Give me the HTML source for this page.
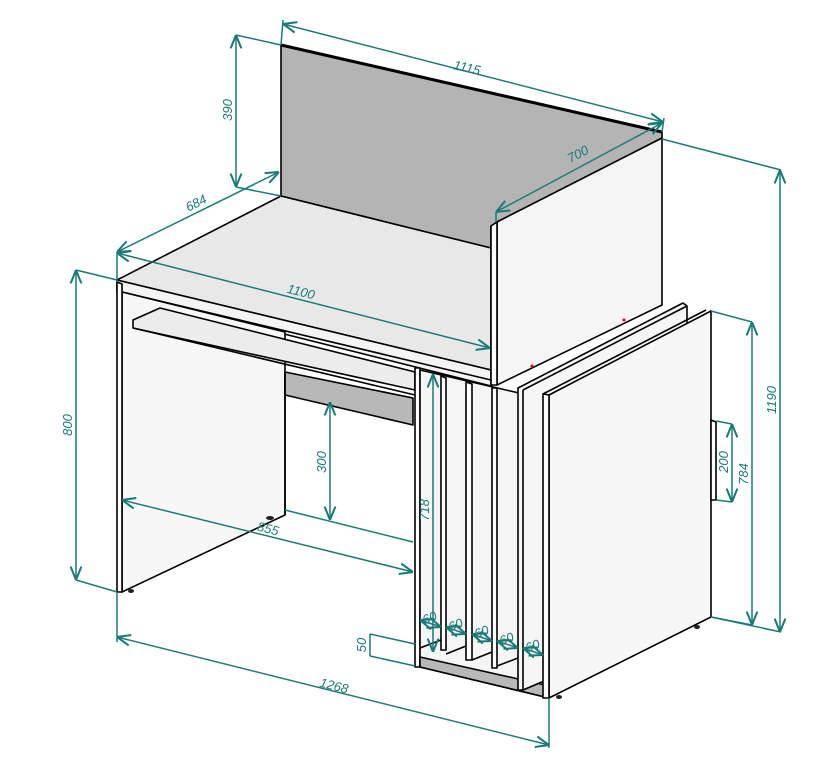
<!DOCTYPE html>
<html><head><meta charset="utf-8"><style>
html,body{margin:0;padding:0;background:#fff;}
svg{display:block;}
text{font-family:"Liberation Sans",sans-serif;font-style:italic;font-size:13px;fill:#1a7a78;}
</style></head><body>
<svg width="829" height="774" viewBox="0 0 829 774" xmlns="http://www.w3.org/2000/svg">
<defs>
<marker id="a" viewBox="0 0 10 10" refX="10" refY="5" markerWidth="9" markerHeight="9" orient="auto-start-reverse"><path d="M0,1 L10,5 L0,9" fill="none" stroke="#1a7a78" stroke-width="1.5"/></marker>
</defs>
<g stroke="#000" stroke-width="1.6" stroke-linejoin="round">
<!-- back panel -->
<polygon points="281,45 662,132 662,138 497,222 491,226 491,248 281,196" fill="#b4b4b4"/>
<line x1="281" y1="45" x2="662" y2="132" stroke-width="3"/>
<!-- desktop -->
<polygon points="117,280 281,196 491,248 491,370" fill="#e8e8e8"/>
<polygon points="117,280 491,370 491,386 117,292" fill="#f4f4f4"/>
<line x1="122" y1="292" x2="491" y2="380"/>
<!-- left leg -->
<polygon points="122,292 285,332 285,515 122,592" fill="#f7f7f7"/>
<polygon points="117,282 122,284 122,592 117,592" fill="#fff"/>
<!-- keyboard tray -->
<polygon points="133,320 160,308 415,372 415,390 133,328" fill="#ececec"/>
<line x1="133" y1="328" x2="415" y2="395"/>
<!-- modesty panel -->
<polygon points="285,372 413,398 413,425 285,395" fill="#b8b8b8"/>
<line x1="285" y1="372" x2="285" y2="515"/>
<!-- pedestal dividers -->
<polygon points="415,368 420,368 420,667 415,667" fill="#fff"/>
<polygon points="420,370 549,400 549,698 420,667" fill="#f5f5f5"/>
<polygon points="441,376 446,378 446,650 441,650" fill="#fff"/>
<polygon points="466,382 472,384 472,660 466,660" fill="#fff"/>
<polygon points="492,388 497,388 497,668 492,668" fill="#fff"/>
<polygon points="420,657 545,685 545,697 420,667" fill="#b8b8b8"/>
<line x1="420" y1="648" x2="441" y2="640"/><line x1="446" y1="654" x2="466" y2="646"/>
<line x1="472" y1="660" x2="492" y2="652"/><line x1="497" y1="666" x2="518" y2="658"/>
<line x1="523" y1="672" x2="543" y2="664"/>
<!-- upper right side panel -->
<polygon points="497,222 662,138 662,305 497,385" fill="#f5f5f5"/>
<polygon points="491,226 497,222 497,385 491,385" fill="#fff"/>
<!-- panel A -->
<polygon points="518,388 683,303 687,306 687,620 523,690 518,690" fill="#f5f5f5"/>
<line x1="523" y1="390" x2="687" y2="306"/>
<line x1="523" y1="390" x2="523" y2="690"/>
<!-- panel B -->
<polygon points="549,395 711,311 711,617 549,698" fill="#f7f7f7"/>
<polygon points="543,394 549,395 549,698 543,698" fill="#fff"/>
<line x1="543" y1="394" x2="706" y2="310"/>
<polygon points="711,420 716,422 716,500 711,500" fill="#fff"/>
</g>
<g fill="#222"><ellipse cx="131" cy="591" rx="3" ry="2"/><ellipse cx="270" cy="518" rx="4" ry="2"/><ellipse cx="559" cy="697" rx="3" ry="2"/><ellipse cx="697" cy="627" rx="3" ry="2"/></g>
<g fill="#d00"><circle cx="532" cy="366" r="1.5"/><circle cx="624" cy="320" r="1.5"/></g>
<!-- dimensions -->
<g stroke="#1a7a78" stroke-width="1.5" fill="none">
<line x1="281" y1="45" x2="283" y2="20"/>
<line x1="283" y1="24" x2="663" y2="122" marker-start="url(#a)" marker-end="url(#a)"/>
<line x1="662" y1="132" x2="664" y2="118"/>
<line x1="236" y1="35" x2="281" y2="45"/><line x1="236" y1="187" x2="281" y2="196"/>
<line x1="236" y1="35" x2="236" y2="187" marker-start="url(#a)" marker-end="url(#a)"/>
<line x1="117" y1="252" x2="279" y2="172" marker-start="url(#a)" marker-end="url(#a)"/>
<line x1="117" y1="252" x2="117" y2="282"/>
<line x1="117" y1="253" x2="490" y2="348" marker-start="url(#a)" marker-end="url(#a)"/>
<line x1="496" y1="212" x2="662" y2="123" marker-start="url(#a)" marker-end="url(#a)"/>
<line x1="496" y1="212" x2="496" y2="222"/>
<line x1="76" y1="270" x2="117" y2="280"/><line x1="76" y1="580" x2="117" y2="592"/>
<line x1="76" y1="270" x2="76" y2="580" marker-start="url(#a)" marker-end="url(#a)"/>
<line x1="330" y1="402" x2="330" y2="520" marker-start="url(#a)" marker-end="url(#a)"/>
<line x1="285" y1="510" x2="413" y2="542"/>
<line x1="122" y1="500" x2="413" y2="572" marker-start="url(#a)" marker-end="url(#a)"/>
<line x1="433" y1="374" x2="433" y2="652" marker-start="url(#a)" marker-end="url(#a)"/>
<line x1="117" y1="592" x2="117" y2="642"/><line x1="549" y1="698" x2="549" y2="748"/>
<line x1="117" y1="637" x2="549" y2="745" marker-start="url(#a)" marker-end="url(#a)"/>
<line x1="370" y1="634" x2="415" y2="644"/><line x1="370" y1="656" x2="415" y2="666"/>
<line x1="370" y1="634" x2="370" y2="656"/>
<line x1="662" y1="139" x2="781" y2="170"/><line x1="711" y1="617" x2="781" y2="632"/>
<line x1="780" y1="170" x2="780" y2="632" marker-start="url(#a)" marker-end="url(#a)"/>
<line x1="711" y1="311" x2="752" y2="322"/><line x1="711" y1="617" x2="752" y2="625"/>
<line x1="752" y1="322" x2="752" y2="625" marker-start="url(#a)" marker-end="url(#a)"/>
<line x1="716" y1="421" x2="732" y2="424"/><line x1="716" y1="500" x2="732" y2="502"/>
<line x1="732" y1="424" x2="732" y2="502" marker-start="url(#a)" marker-end="url(#a)"/>
<line x1="420" y1="620" x2="441" y2="627" marker-start="url(#a)" marker-end="url(#a)"/>
<line x1="446" y1="627" x2="466" y2="634" marker-start="url(#a)" marker-end="url(#a)"/>
<line x1="472" y1="634" x2="492" y2="641" marker-start="url(#a)" marker-end="url(#a)"/>
<line x1="497" y1="641" x2="518" y2="648" marker-start="url(#a)" marker-end="url(#a)"/>
<line x1="523" y1="648" x2="543" y2="655" marker-start="url(#a)" marker-end="url(#a)"/>
</g>
<text transform="translate(466,72) rotate(13)" text-anchor="middle">1115</text>
<text transform="translate(232,110) rotate(-90)" text-anchor="middle">390</text>
<text transform="translate(198,207) rotate(-27)" text-anchor="middle">684</text>
<text transform="translate(300,296) rotate(14)" text-anchor="middle">1100</text>
<text transform="translate(580,158) rotate(-28)" text-anchor="middle">700</text>
<text transform="translate(72,425) rotate(-90)" text-anchor="middle">800</text>
<text transform="translate(326,462) rotate(-90)" text-anchor="middle">300</text>
<text transform="translate(267,533) rotate(14)" text-anchor="middle">855</text>
<text transform="translate(429,510) rotate(-90)" text-anchor="middle">718</text>
<text transform="translate(333,690) rotate(14)" text-anchor="middle">1268</text>
<text transform="translate(366,645) rotate(-90)" text-anchor="middle">50</text>
<text transform="translate(776,400) rotate(-90)" text-anchor="middle">1190</text>
<text transform="translate(748,474) rotate(-90)" text-anchor="middle">784</text>
<text transform="translate(728,462) rotate(-90)" text-anchor="middle">200</text>
<text transform="translate(431,622) rotate(-20)" text-anchor="middle">60</text>
<text transform="translate(457,629) rotate(-20)" text-anchor="middle">60</text>
<text transform="translate(483,636) rotate(-20)" text-anchor="middle">60</text>
<text transform="translate(508,643) rotate(-20)" text-anchor="middle">60</text>
<text transform="translate(534,650) rotate(-20)" text-anchor="middle">60</text>
</svg>
</body></html>
